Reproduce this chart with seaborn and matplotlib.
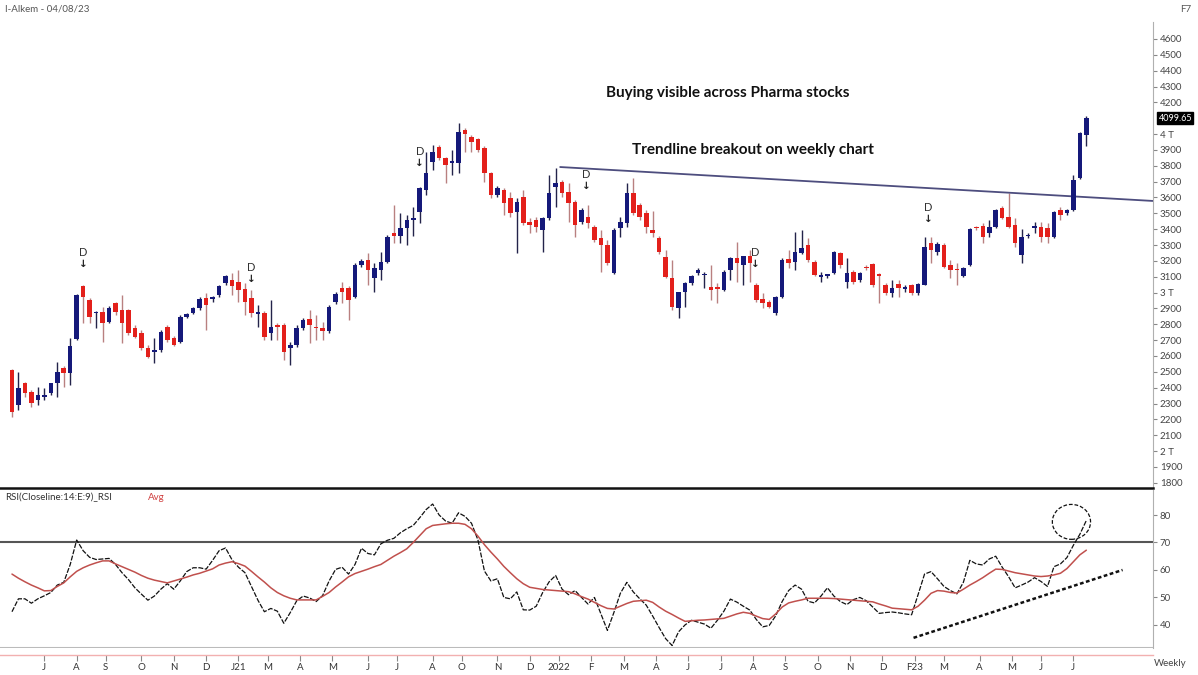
import numpy as np
import pandas as pd
import matplotlib
matplotlib.use("Agg")
import matplotlib.pyplot as plt
from matplotlib.patches import Ellipse
import seaborn as sns

# ---------------- data (weekly OHLC) ----------------
opens = [2511, 2291, 2429, 2373, 2322, 2341, 2366, 2429, 2524, 2492,
         2707, 3041, 2953, 2871, 2877, 2814, 2934, 2890, 2890, 2776,
         2745, 2650, 2625, 2638, 2783, 2713, 2688, 2846, 2871, 2903,
         2966, 2960, 2985, 3061, 3079, 3067, 3023, 2966, 2865, 2871,
         2745, 2795, 2795, 2650, 2669, 2776, 2833, 2783, 2776, 2758,
         2941, 3029, 3029, 2972, 3174, 3206, 3092, 3143, 3193, 3376,
         3357, 3407, 3458, 3508, 3647, 3824, 3919, 3849, 3818, 3818,
         4026, 3982, 3969, 3912, 3755, 3616, 3647, 3597, 3508, 3603,
         3446, 3458, 3395, 3470, 3666, 3698, 3635, 3572, 3446, 3477,
         3414, 3344, 3300, 3124, 3407, 3439, 3628, 3553, 3502, 3395,
         3344, 3224, 3092, 2903, 3004, 3061, 3124, 3111, 3035, 3029,
         3016, 3143, 3218, 3174, 3231, 3048, 2960, 2941, 2871, 2972,
         3212, 3193, 3250, 3300, 3193, 3100, 3105, 3124, 3250, 3067,
         3130, 3080, 3162, 3180, 3117, 3048, 2997, 3054, 3023, 3048,
         2997, 3048, 3313, 3256, 3300, 3174, 3149, 3105, 3174, 3414,
         3420, 3376, 3414, 3534, 3477, 3426, 3237, 3357, 3408, 3414,
         3407, 3351, 3521, 3502, 3521, 3723, 3995]
highs = [2520, 2499, 2436, 2385, 2404, 2398, 2432, 2562, 2537, 2713,
         2990, 3050, 2966, 2884, 2909, 2915, 2941, 2985, 2896, 2795,
         2764, 2669, 2713, 2764, 2795, 2726, 2858, 2871, 2909, 2972,
         2997, 2978, 3048, 3111, 3124, 3143, 3061, 3016, 2922, 2884,
         2953, 2808, 2808, 2688, 2795, 2840, 2890, 2858, 2814, 2922,
         3004, 3067, 3041, 3187, 3212, 3250, 3187, 3256, 3363, 3553,
         3502, 3490, 3540, 3666, 3887, 3931, 3931, 3856, 3900, 4070,
         4038, 3994, 3976, 3925, 3761, 3672, 3660, 3635, 3597, 3647,
         3470, 3477, 3477, 3742, 3786, 3710, 3691, 3584, 3534, 3553,
         3426, 3395, 3332, 3407, 3477, 3691, 3723, 3565, 3521, 3515,
         3357, 3269, 3206, 3004, 3067, 3111, 3155, 3130, 3174, 3061,
         3143, 3224, 3319, 3231, 3269, 3061, 2997, 2953, 2978, 3218,
         3269, 3382, 3395, 3344, 3206, 3130, 3120, 3262, 3256, 3218,
         3143, 3130, 3174, 3187, 3124, 3061, 3079, 3079, 3048, 3054,
         3061, 3351, 3351, 3319, 3313, 3206, 3187, 3162, 3407, 3420,
         3439, 3458, 3527, 3546, 3628, 3470, 3401, 3376, 3446, 3446,
         3439, 3515, 3540, 3527, 3742, 4013, 4115]
lows = [2215, 2259, 2341, 2278, 2291, 2322, 2354, 2341, 2404, 2417,
        2700, 2808, 2808, 2776, 2688, 2808, 2858, 2682, 2732, 2713,
        2638, 2588, 2556, 2625, 2688, 2663, 2682, 2840, 2865, 2890,
        2764, 2941, 2972, 3048, 2985, 2941, 2858, 2846, 2783, 2701,
        2701, 2701, 2575, 2543, 2656, 2764, 2682, 2701, 2701, 2745,
        2928, 2934, 2827, 2966, 3161, 3048, 3004, 3079, 3187, 3313,
        3313, 3300, 3357, 3439, 3616, 3774, 3837, 3691, 3742, 3755,
        3887, 3887, 3887, 3698, 3597, 3603, 3490, 3477, 3250, 3426,
        3376, 3382, 3256, 3458, 3540, 3603, 3446, 3351, 3433, 3407,
        3319, 3130, 3174, 3117, 3351, 3414, 3490, 3458, 3376, 3351,
        3244, 3092, 2890, 2840, 2909, 3048, 3111, 3029, 2953, 2934,
        3010, 3079, 3067, 3048, 3067, 2941, 2903, 2903, 2858, 2966,
        3155, 3143, 3244, 3193, 3105, 3067, 3092, 3117, 3155, 3029,
        3054, 3067, 3143, 3035, 2934, 2985, 2972, 2972, 3004, 2985,
        2985, 3048, 3187, 3237, 3155, 3092, 3048, 3098, 3168, 3395,
        3313, 3351, 3408, 3464, 3408, 3288, 3187, 3344, 3376, 3319,
        3313, 3344, 3458, 3489, 3515, 3717, 3925]
closes = [2246, 2398, 2366, 2303, 2354, 2354, 2429, 2499, 2492, 2663,
          2985, 2972, 2846, 2880, 2808, 2903, 2877, 2808, 2745, 2720,
          2650, 2594, 2638, 2751, 2701, 2669, 2846, 2865, 2903, 2960,
          2922, 2966, 3041, 3105, 3041, 3016, 2941, 2871, 2877, 2720,
          2783, 2783, 2625, 2669, 2776, 2827, 2795, 2776, 2758, 2909,
          2991, 3004, 2953, 3174, 3199, 3143, 3155, 3193, 3351, 3357,
          3407, 3458, 3470, 3660, 3755, 3887, 3849, 3805, 3830, 4013,
          4001, 3950, 3900, 3755, 3616, 3660, 3565, 3502, 3572, 3439,
          3426, 3414, 3470, 3628, 3691, 3628, 3565, 3426, 3521, 3439,
          3332, 3300, 3187, 3395, 3446, 3628, 3502, 3477, 3414, 3376,
          3256, 3098, 2909, 3004, 3061, 3105, 3143, 3117, 3016, 3023,
          3130, 3218, 3187, 3231, 3187, 2953, 2935, 2909, 2972, 3206,
          3187, 3256, 3281, 3206, 3111, 3108, 3111, 3256, 3174, 3124,
          3067, 3124, 3155, 3048, 3105, 2997, 3029, 3029, 3029, 2997,
          3054, 3288, 3269, 3306, 3162, 3143, 3140, 3155, 3401, 3405,
          3351, 3414, 3521, 3470, 3414, 3313, 3351, 3365, 3414, 3351,
          3351, 3508, 3489, 3521, 3710, 4007, 4099.65]

rsi = [44.8, 49.5, 49.5, 47.9, 49.5, 50.6, 51.8, 54.5, 55.5, 62.0,
       70.9, 67.0, 64.6, 63.8, 64.0, 64.2, 62.0, 59.0, 56.5, 53.5,
       51.2, 49.0, 50.5, 53.0, 55.0, 53.0, 56.0, 59.4, 60.8, 60.8,
       60.3, 63.5, 67.0, 68.0, 63.7, 61.0, 59.0, 54.0, 49.0, 44.8,
       46.0, 45.0, 40.6, 44.5, 48.8, 50.5, 49.8, 48.5, 50.7, 56.0,
       60.2, 61.0, 58.5, 62.0, 67.9, 66.0, 65.5, 69.5, 70.8, 71.5,
       73.5, 75.0, 76.2, 79.0, 82.0, 84.0, 80.0, 77.8, 77.0, 80.8,
       79.5, 77.0, 70.9, 59.6, 56.0, 56.8, 50.0, 49.5, 52.0, 45.5,
       45.4, 46.8, 51.8, 55.7, 58.0, 53.0, 51.0, 52.5, 50.0, 47.6,
       50.0, 44.0, 38.0, 44.5, 51.5, 55.5, 52.0, 49.5, 47.2, 43.2,
       39.0, 35.0, 32.5, 37.5, 40.0, 41.7, 41.0, 40.3, 38.8, 41.7,
       45.0, 49.4, 48.3, 46.8, 45.4, 42.0, 39.3, 39.8, 43.3, 48.5,
       52.5, 54.5, 53.0, 48.6, 48.0, 50.5, 53.5, 50.5, 48.5, 47.4,
       49.2, 50.0, 48.8, 46.5, 44.2, 44.5, 44.7, 44.4, 44.0, 43.7,
       51.0, 58.5, 59.4, 56.8, 54.0, 52.5, 51.3, 55.5, 63.5, 62.2,
       61.8, 64.0, 65.0, 61.0, 57.5, 53.5, 54.5, 55.6, 57.2, 55.8,
       54.0, 61.2, 62.2, 64.5, 69.0, 73.0, 78.0]
rsi_avg = [58.5, 57.0, 55.7, 54.5, 53.5, 52.4, 52.5, 54.0, 55.3, 57.5,
           59.5, 60.8, 61.8, 62.6, 63.3, 63.3, 62.2, 61.2, 60.2, 59.2,
           58.0, 57.0, 56.3, 55.8, 55.3, 56.0, 56.7, 57.4, 58.2, 58.8,
           59.6, 60.4, 61.8, 62.5, 63.0, 62.3, 61.4, 59.5, 57.5, 55.6,
           53.5, 51.8, 50.6, 49.7, 49.1, 49.1, 49.1, 49.1, 50.4, 51.8,
           53.8, 55.6, 57.5, 58.7, 59.5, 60.3, 61.2, 62.0, 63.5, 65.0,
           66.3, 67.7, 70.0, 72.5, 75.0, 76.2, 76.5, 76.8, 77.0, 77.0,
           76.6, 75.0, 72.3, 69.2, 66.5, 64.0, 61.3, 59.0, 56.8, 55.0,
           53.7, 53.3, 52.9, 52.7, 52.5, 52.3, 52.1, 51.3, 50.3, 49.4,
           48.2, 47.0, 46.0, 45.8, 46.8, 47.8, 48.6, 48.8, 49.0, 48.2,
           46.5, 45.0, 43.8, 42.5, 41.3, 41.5, 41.7, 41.8, 42.0, 42.2,
           42.4, 43.2, 44.0, 44.6, 44.2, 43.2, 42.3, 42.0, 44.0, 46.5,
           48.0, 48.6, 49.1, 49.7, 49.7, 49.7, 49.7, 49.6, 49.4, 49.2,
           49.0, 48.8, 48.6, 48.4, 47.6, 46.9, 46.1, 45.9, 45.7, 45.5,
           46.8, 49.0, 51.5, 52.5, 52.3, 51.8, 51.6, 53.0, 54.5, 55.8,
           57.2, 58.8, 60.3, 60.2, 59.6, 59.0, 58.6, 58.2, 57.8, 57.6,
           57.8, 58.2, 58.8, 60.5, 63.0, 65.5, 67.2]

month_labels = ["J", "A", "S", "O", "N", "D", "J21", "M", "A", "M", "J", "J", "A",
                "O", "N", "D", "2022", "F", "M", "A", "J", "J", "A", "S", "O", "N",
                "D", "F23", "M", "A", "M", "J", "J"]
month_weeks = [5, 10, 14.5, 20, 25, 30, 35, 39.5, 44.5, 49.5, 55, 59.5, 65, 69.5,
               75, 80, 84.5, 89.5, 94.5, 99.5, 104.5, 109.5, 114.5, 119.5, 124.5,
               129.5, 134.5, 139.5, 144, 149.5, 154.5, 159, 164]

# 4100 is hidden behind the last-price box in the reference
price_ticks = [t for t in range(1800, 4700, 100) if t != 4100]
rsi_ticks = [40, 50, 60, 70, 80]

# signal markers: (week, price)
d_weeks = [11, 37, 63, 88.7, 114.8, 141.6]
d_prices = [3218, 3124, 3855, 3710, 3218, 3502]

# trendlines (week, value)
tl_weeks = [84.7, 176.3]
tl_prices = [3792, 3578]
rsi_tl_weeks = [139.3, 171.6]
rsi_tl_vals = [35.3, 60.0]

df = pd.DataFrame({"week": np.arange(len(closes)), "open": opens, "high": highs,
                   "low": lows, "close": closes, "rsi": rsi, "rsi_avg": rsi_avg})

# ---------------- styling ----------------
sns.set_theme(style="white")
plt.rcParams["font.family"] = ["Lato", "DejaVu Sans"]

W, H = 1198, 675
fig = plt.figure(figsize=(W / 100, H / 100), dpi=100)
fig.patch.set_facecolor("white")

ax = fig.add_axes([0, 1 - 488 / H, 1153 / W, (488 - 22) / H])
ax2 = fig.add_axes([0, 1 - 648 / H, 1153 / W, (648 - 490) / H], sharex=ax)

RED = "#e3201b"
BLUE = "#15197a"
up = df["close"] >= df["open"]

# wicks
for is_up, wcol in [(True, "#23234a"), (False, "#b98080")]:
    sub = df[up == is_up]
    ax.vlines(sub["week"], sub["low"], sub["high"], color=wcol, lw=1.0, zorder=2)
# bodies
body_bottom = np.minimum(df["open"], df["close"])
body_h = np.maximum(np.abs(df["close"] - df["open"]), 9)
ax.bar(df["week"], body_h, bottom=body_bottom, width=0.7,
       color=np.where(up, BLUE, RED), edgecolor="none", zorder=3)

# trendline on price
sns.lineplot(x=tl_weeks, y=tl_prices, ax=ax, color="#4d4d7e", lw=1.3)

# D markers
for w, p in zip(d_weeks, d_prices):
    ax.text(w, p, "D", ha="center", va="bottom", fontsize=8, color="#333333")
    ax.text(w, p - 5, "↓", ha="center", va="top", fontsize=7.5, color="#222222",
            fontweight="bold", family=["DejaVu Sans"])

ax.set_xlim(-1.85, 176.3)
ax.set_ylim(1767, 4707)
ax.yaxis.tick_right()
ax.set_yticks(price_ticks)
ylabels = []
for t in price_ticks:
    ylabels.append(f"{t // 1000} T" if t % 1000 == 0 else str(t))
ax.set_yticklabels(ylabels)
ax.tick_params(axis="y", which="both", right=True, length=3, width=0.8,
               color="#888888", labelsize=7, labelcolor="#444444", pad=2)
ax.tick_params(axis="x", bottom=False, labelbottom=False)
for s in ["left", "top"]:
    ax.spines[s].set_visible(False)
ax.spines["right"].set_color("#b0b0b0")
ax.spines["right"].set_linewidth(0.8)
ax.spines["bottom"].set_color("#111111")
ax.spines["bottom"].set_linewidth(1.8)
ax.set_xlabel("")
ax.set_ylabel("")

# last price box
last = closes[-1]
ax.annotate(f"{last:.2f}", xy=(1.0, last), xycoords=("axes fraction", "data"),
            xytext=(4, 0), textcoords="offset points", ha="left", va="center",
            fontsize=6.5, color="white",
            bbox=dict(boxstyle="square,pad=0.15", fc="black", ec="black"))

# ---------------- RSI panel ----------------
sns.lineplot(data=df, x="week", y="rsi", ax=ax2, color="#111111", lw=0.9,
             linestyle=(0, (4, 1.2)))
sns.lineplot(data=df, x="week", y="rsi_avg", ax=ax2, color="#c0504d", lw=1.1)
ax2.axhline(70, color="#555555", lw=1.5, zorder=1)
sns.lineplot(x=rsi_tl_weeks, y=rsi_tl_vals, ax=ax2, color="#111111", lw=1.8,
             linestyle=(0, (1.5, 1)))
ax2.add_patch(Ellipse((163.7, 77.5), 5.9, 12.7, fill=False, ec="#111111",
                      lw=0.9, ls=(0, (3, 1.5))))

ax2.set_ylim(31.6, 89.1)
ax2.axhline(31.6, color="#bbbbbb", lw=1.5)
ax2.yaxis.tick_right()
ax2.set_yticks(rsi_ticks)
ax2.set_yticklabels([str(t) for t in rsi_ticks])
ax2.tick_params(axis="y", right=True, length=3, width=0.8, color="#888888",
                labelsize=7, labelcolor="#444444", pad=2)
ax2.set_xticks(month_weeks)
ax2.set_xticklabels(month_labels)
ax2.tick_params(axis="x", bottom=True, length=4, width=0.8, color="#888888",
                labelsize=7, labelcolor="#333333", pad=2)
for s in ["left", "top"]:
    ax2.spines[s].set_visible(False)
ax2.spines["right"].set_color("#b0b0b0")
ax2.spines["right"].set_linewidth(0.8)
ax2.spines["bottom"].set_position(("outward", 5))
ax2.spines["bottom"].set_color("#f2b0b0")
ax2.spines["bottom"].set_linewidth(1.0)
ax2.set_xlabel("")
ax2.set_ylabel("")

# ---------------- texts ----------------
fig.text(5 / W, 1 - 9 / H, "I-Alkem - 04/08/23", fontsize=7, color="#555555",
         va="center", ha="left")
fig.text(1186 / W, 1 - 9 / H, "F7", fontsize=7, color="#555555", va="center", ha="center")
fig.text(728 / W, 1 - 93 / H, "Buying visible across Pharma stocks", fontsize=11,
         fontweight="bold", color="#111111", ha="center", va="center")
fig.text(753 / W, 1 - 150 / H, "Trendline breakout on weekly chart", fontsize=11,
         fontweight="bold", color="#111111", ha="center", va="center")
fig.text(5 / W, 1 - 497 / H, "RSI(Closeline:14:E:9)_RSI", fontsize=7, color="#333333",
         va="center", ha="left")
fig.text(148 / W, 1 - 497 / H, "Avg", fontsize=7, color="#d04040", va="center", ha="left")
fig.text(1170 / W, 1 - 663 / H, "Weekly", fontsize=7, color="#444444", va="center", ha="center")

fig.savefig("out.png", dpi=100, facecolor="white")
